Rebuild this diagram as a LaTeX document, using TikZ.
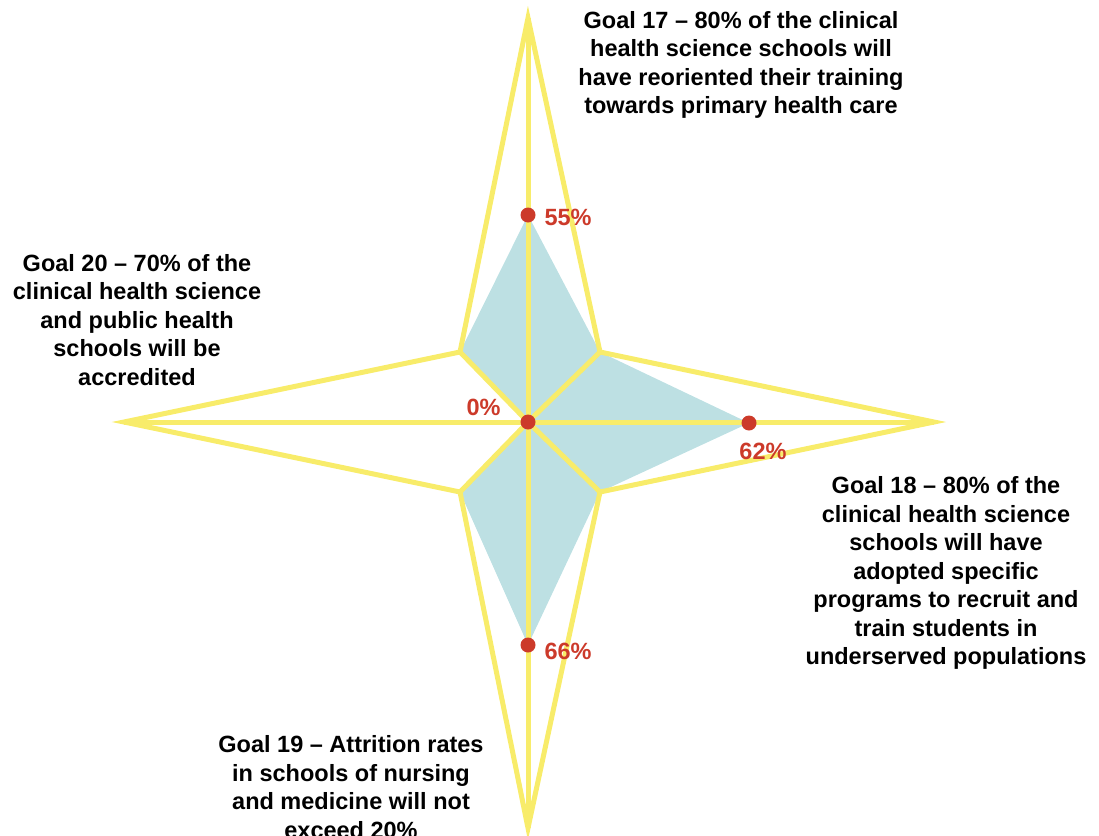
\documentclass[tikz,border=0pt]{standalone}
\usepackage{fontspec}
\setmainfont{Liberation Sans}
\begin{document}
\begin{tikzpicture}[x=1pt,y=-1pt,
  star/.style={draw=starY,line width=5pt,line join=miter},
  spoke/.style={draw=starY,line width=5pt},
  goal/.style={font=\fontsize{23.5}{28.5}\selectfont\bfseries,align=center,text=black},
  pct/.style={font=\fontsize{23.5}{26}\selectfont\bfseries,text=dotR},
  dot/.style={circle,fill=dotR,inner sep=0pt,minimum size=15pt}]
\definecolor{starY}{HTML}{F8EC6A}
\definecolor{shadeB}{HTML}{BDE0E3}
\definecolor{dotR}{HTML}{CC3A2A}
\useasboundingbox (0,0) rectangle (1099,835);
\clip (0,0) rectangle (1099,835);
% coordinates
\coordinate (C) at (528,422);
\coordinate (T) at (528,18);
\coordinate (R) at (934,422);
\coordinate (B) at (528,828);
\coordinate (L) at (124,422);
\coordinate (TR) at (600,352);
\coordinate (BR) at (600,492);
\coordinate (BL) at (460,492);
\coordinate (TL) at (460,352);
\coordinate (P17) at (528,215);
\coordinate (P18) at (749,423);
\coordinate (P19) at (528,645);
% shaded data
\fill[shadeB] (P17) -- (TR) -- (P18) -- (BR) -- (P19) -- (BL) -- (C) -- (TL) -- cycle;
% star
\draw[star] (T) -- (TR) -- (R) -- (BR) -- (B) -- (BL) -- (L) -- (TL) -- cycle;
\draw[spoke] (C) -- (T);
\draw[spoke] (C) -- (R);
\draw[spoke] (C) -- (B);
\draw[spoke] (C) -- (L);
\draw[spoke] (C) -- (TR);
\draw[spoke] (C) -- (BR);
\draw[spoke] (C) -- (BL);
\draw[spoke] (C) -- (TL);
% dots
\node[dot] (d17) at (P17) {};
\node[dot] (d18) at (P18) {};
\node[dot] (d19) at (P19) {};
\node[dot] (d20) at (C) {};
\node[pct,anchor=west] (l17) at (541,217) {55\%};
\node[pct,anchor=east] (l20) at (504,407) {0\%};
\node[pct] (l18) at (763,451) {62\%};
\node[pct,anchor=west] (l19) at (541,651) {66\%};
% goals
\node[goal] (g17) at (741,65) {Goal 17 – 80\% of the clinical\\health science schools will\\have reoriented their training\\towards primary health care};
\node[goal] (g20) at (137,320) {Goal 20 – 70\% of the\\clinical health science\\and public health\\schools will be\\accredited};
\node[goal] (g18) at (946,573) {Goal 18 – 80\% of the\\clinical health science\\schools will have\\adopted specific\\programs to recruit and\\train students in\\underserved populations};
\node[goal] (g19) at (351,787) {Goal 19 – Attrition rates\\in schools of nursing\\and medicine will not\\exceed 20\%};
\end{tikzpicture}
\end{document}
